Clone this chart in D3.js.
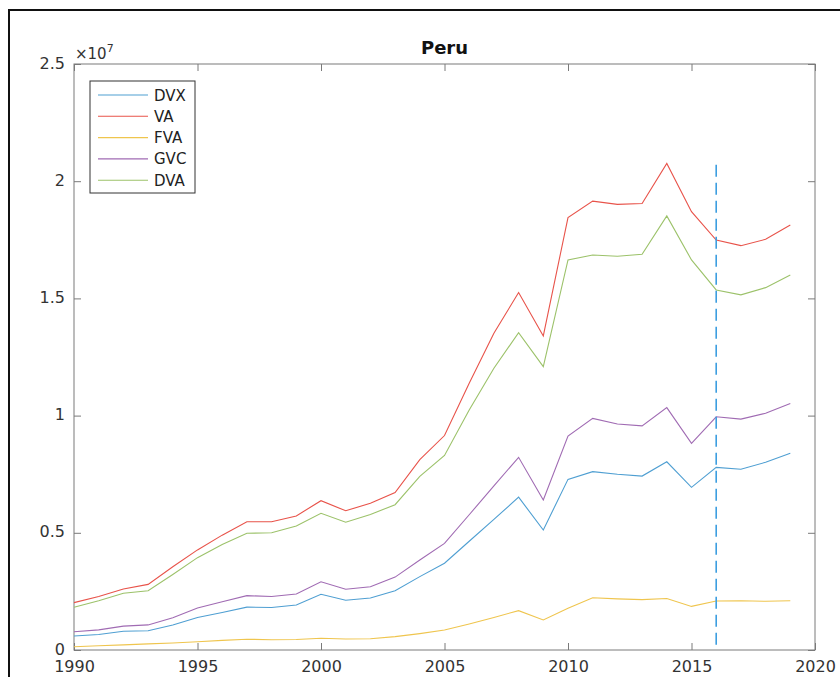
<!DOCTYPE html>
<html><head><meta charset="utf-8">
<script src="https://cdn.jsdelivr.net/npm/d3@7"></script>
<style>body{margin:0;background:#fff}svg{display:block}text{font-family:"DejaVu Sans",sans-serif}</style>
</head><body><div id="chart"></div>
<script>
const years = d3.range(1990, 2020);
const DVX = [0.060,0.066,0.080,0.082,0.107,0.139,0.160,0.183,0.181,0.192,0.238,0.212,0.222,0.253,0.313,0.370,0.464,0.557,0.652,0.512,0.728,0.761,0.750,0.742,0.803,0.694,0.779,0.771,0.801,0.839];
const VA  = [0.202,0.228,0.260,0.280,0.355,0.427,0.490,0.547,0.547,0.572,0.637,0.594,0.626,0.672,0.812,0.915,1.138,1.351,1.525,1.340,1.845,1.915,1.901,1.905,2.076,1.870,1.749,1.725,1.752,1.813];
const FVA = [0.014,0.018,0.022,0.026,0.030,0.035,0.041,0.046,0.044,0.045,0.050,0.047,0.048,0.057,0.070,0.085,0.111,0.139,0.168,0.128,0.178,0.223,0.218,0.215,0.220,0.186,0.209,0.210,0.208,0.210];
const GVC = [0.078,0.086,0.102,0.107,0.138,0.179,0.206,0.232,0.228,0.239,0.291,0.259,0.270,0.311,0.384,0.455,0.577,0.700,0.822,0.640,0.913,0.988,0.964,0.956,1.034,0.882,0.995,0.985,1.010,1.052];
const DVA = [0.182,0.210,0.242,0.253,0.322,0.394,0.450,0.498,0.500,0.529,0.583,0.545,0.578,0.620,0.741,0.830,1.024,1.202,1.354,1.209,1.664,1.685,1.680,1.688,1.852,1.664,1.536,1.515,1.546,1.600];
const seriesNames = ["DVX","VA","FVA","GVC","DVA"];
const seriesColors = ["#4f9fd2","#e8534a","#efc54e","#a06bb3","#9cc26a"];
const xTicks = [1990,1995,2000,2005,2010,2015,2020];
const yTicks = [0,0.5,1,1.5,2,2.5];
const yTickLabels = ["0","0.5","1","1.5","2","2.5"];
const cutYear = 2016;
const title = "Peru";

const W = 840, H = 677;
const L = 74, R = 815, T = 64, B = 650;
const svg = d3.select("#chart").append("svg").attr("width", W).attr("height", H);

// outer frame
svg.append("path").attr("d", `M9,${H} L9,10 L${W},10`).attr("fill","none").attr("stroke","#111").attr("stroke-width",2);

const x = d3.scaleLinear().domain([1990,2020]).range([L,R]);
const y = d3.scaleLinear().domain([0,2.5]).range([B,T]);

const axisColor = "#7a7a7a", textColor = "#333";
svg.append("rect").attr("x",L).attr("y",T).attr("width",R-L).attr("height",B-T)
  .attr("fill","none").attr("stroke",axisColor).attr("stroke-width",1);

const gx = svg.append("g").attr("transform",`translate(0,${B})`)
  .call(d3.axisBottom(x).tickValues(xTicks).tickFormat(d3.format("d")).tickSizeInner(-7).tickSizeOuter(0).tickPadding(11));
const gxt = svg.append("g").attr("transform",`translate(0,${T})`)
  .call(d3.axisTop(x).tickValues(xTicks).tickFormat("").tickSizeInner(-7).tickSizeOuter(0));
const gy = svg.append("g").attr("transform",`translate(${L},0)`)
  .call(d3.axisLeft(y).tickValues(yTicks).tickFormat((d,i)=>yTickLabels[i]).tickSizeInner(-7).tickSizeOuter(0).tickPadding(9));
const gyr = svg.append("g").attr("transform",`translate(${R},0)`)
  .call(d3.axisRight(y).tickValues(yTicks).tickFormat("").tickSizeInner(-7).tickSizeOuter(0));
[gx,gxt,gy,gyr].forEach(g=>{
  g.select(".domain").remove();
  g.selectAll(".tick line").attr("stroke",axisColor);
  g.selectAll("text").attr("fill",textColor).attr("font-size",16).attr("font-family","DejaVu Sans, sans-serif");
});
gy.selectAll(".tick text").attr("dy","0.25em");

// exponent
const ex = svg.append("text").attr("x",L+1).attr("y",T-5).attr("fill",textColor).attr("font-size",15);
ex.append("tspan").text("×10");
ex.append("tspan").attr("dy",-7).attr("font-size",11).text("7");

// title
svg.append("text").attr("x",(L+R)/2).attr("y",54).attr("text-anchor","middle")
  .attr("font-weight","bold").attr("font-size",18).attr("fill","#111").text(title);

const data = [DVX,VA,FVA,GVC,DVA];
const line = d3.line().x((d,i)=>x(years[i])).y(d=>y(d));
data.forEach((s,k)=>{
  svg.append("path").datum(s).attr("d",line).attr("fill","none")
    .attr("stroke",seriesColors[k]).attr("stroke-width",1.1);
});

// dashed vertical line
svg.append("line").attr("x1",x(cutYear)).attr("x2",x(cutYear)).attr("y1",y(2.07)).attr("y2",B)
  .attr("stroke","#3d9ee0").attr("stroke-width",1.6).attr("stroke-dasharray","12,6");

// legend
const lg = svg.append("g");
lg.append("rect").attr("x",90).attr("y",81).attr("width",105).attr("height",112)
  .attr("fill","#fff").attr("stroke","#333").attr("stroke-width",1);
seriesNames.forEach((n,k)=>{
  const yy = 95 + k*21.3;
  lg.append("line").attr("x1",98).attr("x2",148).attr("y1",yy).attr("y2",yy)
    .attr("stroke",seriesColors[k]).attr("stroke-width",1.1);
  lg.append("text").attr("x",154).attr("y",yy+5.5).attr("font-size",15).attr("fill","#222").text(n);
});
</script></body></html>
